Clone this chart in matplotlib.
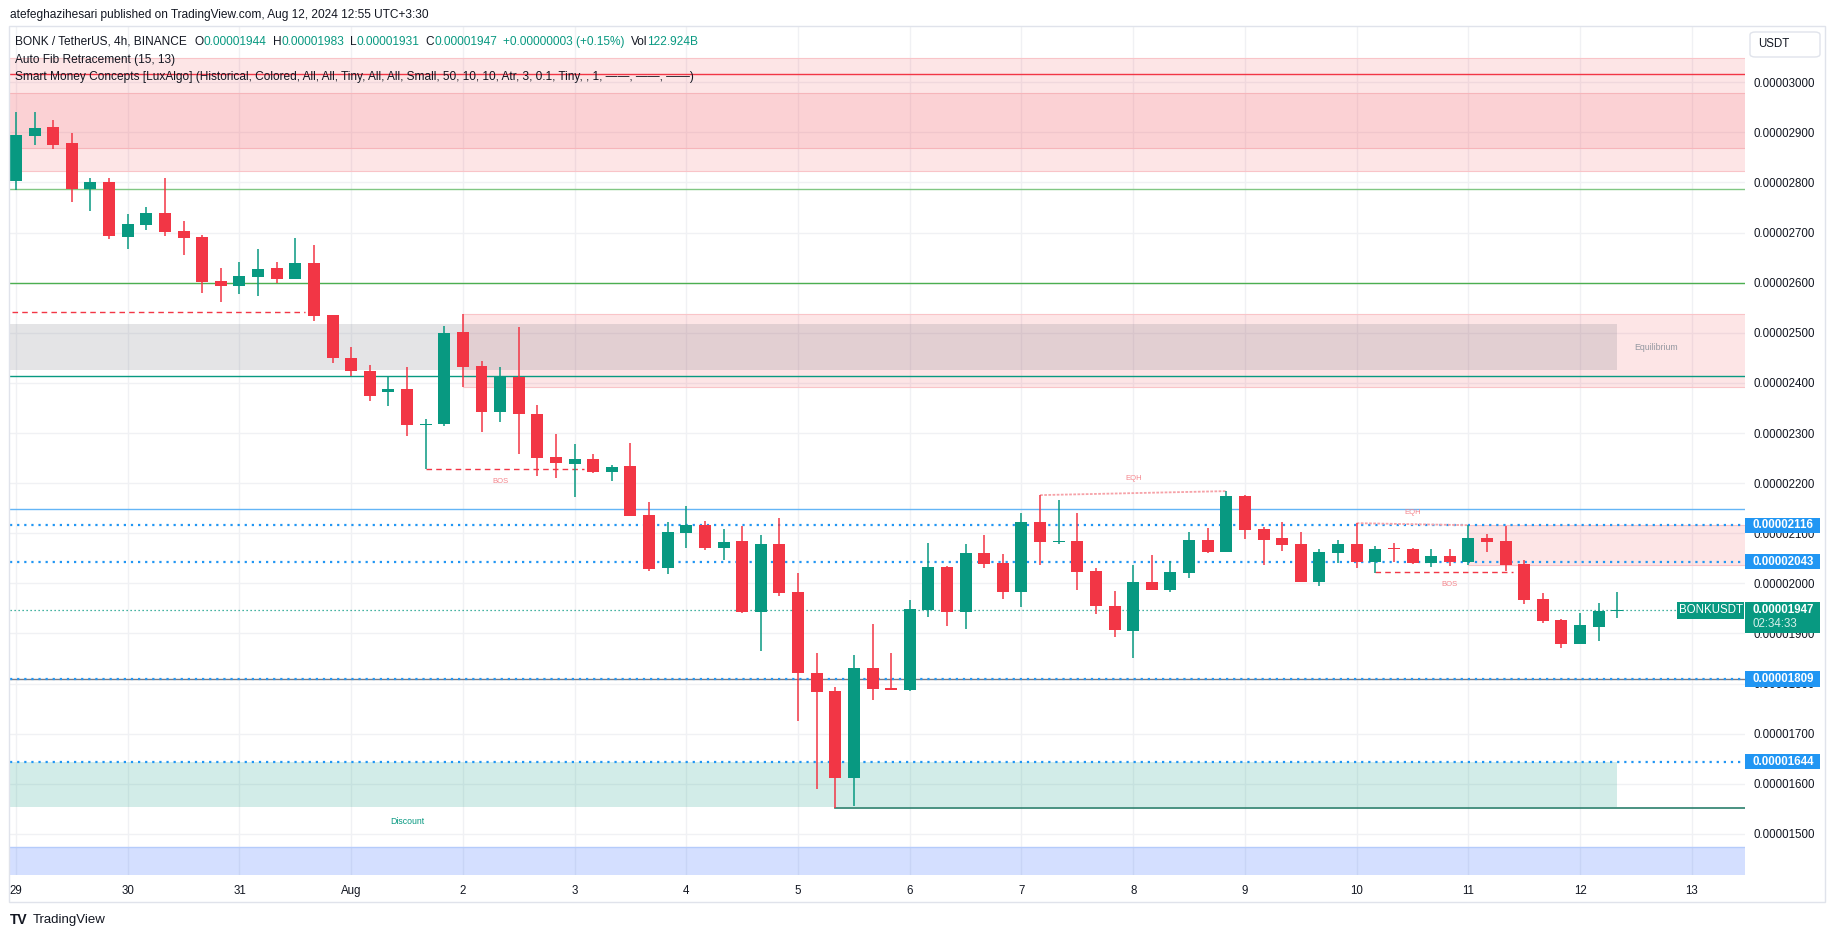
import matplotlib
matplotlib.use("Agg")
import matplotlib.pyplot as plt
from matplotlib.patches import Rectangle, FancyBboxPatch
from matplotlib.transforms import blended_transform_factory

plt.rcParams["font.family"] = ["Liberation Sans", "DejaVu Sans"]

W, H = 1835, 939

# BONK/USDT 4h candles, prices in units of 1e-8 USDT, from Jul 29 00:00
opens = [2802, 2893, 2911, 2879, 2787, 2801, 2692, 2716, 2739, 2703,
         2691, 2603, 2594, 2612, 2629, 2608, 2639, 2535, 2450, 2424,
         2382, 2388, 2315, 2317, 2502, 2434, 2341, 2412, 2338, 2252,
         2239, 2248, 2223, 2234, 2136, 2031, 2101, 2116, 2071, 2084,
         1943, 2078, 1983, 1821, 1785, 1612, 1831, 1792, 1788, 1947,
         2033, 1943, 2061, 2041, 1983, 2122, 2082, 2084, 2025, 1955,
         1905, 2003, 1987, 2021, 2086, 2062, 2174, 2108, 2090, 2078,
         2003, 2060, 2078, 2042, 2070, 2068, 2040, 2054, 2042, 2090,
         2084, 2038, 1969, 1927, 1879, 1913, 1944]
highs = [2941, 2941, 2925, 2899, 2809, 2809, 2737, 2751, 2809, 2723,
         2695, 2629, 2641, 2667, 2641, 2689, 2675, 2536, 2472, 2436,
         2412, 2432, 2328, 2514, 2538, 2444, 2432, 2512, 2356, 2298,
         2278, 2258, 2236, 2280, 2163, 2122, 2154, 2124, 2108, 2114,
         2096, 2130, 2021, 1861, 1793, 1857, 1919, 1861, 1967, 2080,
         2035, 2078, 2096, 2059, 2140, 2176, 2166, 2140, 2031, 1985,
         2037, 2057, 2045, 2102, 2110, 2184, 2176, 2112, 2122, 2102,
         2069, 2086, 2120, 2074, 2080, 2070, 2068, 2068, 2116, 2098,
         2114, 2046, 1981, 1929, 1941, 1961, 1983]
lows = [2786, 2875, 2867, 2762, 2744, 2687, 2667, 2705, 2694, 2655,
        2580, 2562, 2578, 2574, 2599, 2608, 2524, 2440, 2414, 2364,
        2354, 2294, 2228, 2313, 2392, 2301, 2321, 2258, 2215, 2211,
        2173, 2221, 2205, 2135, 2025, 2019, 2071, 2067, 2047, 1941,
        1864, 1975, 1726, 1590, 1552, 1556, 1768, 1788, 1786, 1933,
        1915, 1909, 2031, 1969, 1953, 2037, 2078, 1987, 1939, 1893,
        1851, 1987, 1983, 2011, 2060, 2062, 2088, 2037, 2065, 2003,
        1995, 2040, 2030, 2021, 2042, 2038, 2032, 2034, 2036, 2062,
        2025, 1959, 1921, 1871, 1879, 1885, 1931]
closes = [2895, 2909, 2875, 2787, 2801, 2694, 2717, 2739, 2702, 2690,
          2602, 2594, 2613, 2627, 2608, 2639, 2534, 2450, 2424, 2374,
          2388, 2315, 2318, 2500, 2432, 2341, 2413, 2337, 2251, 2241,
          2248, 2223, 2232, 2135, 2029, 2102, 2116, 2071, 2082, 1943,
          2078, 1981, 1820, 1784, 1612, 1831, 1790, 1788, 1949, 2033,
          1943, 2061, 2039, 1983, 2122, 2082, 2085, 2023, 1955, 1907,
          2003, 1987, 2023, 2086, 2062, 2174, 2106, 2086, 2076, 2003,
          2062, 2078, 2042, 2068, 2068, 2040, 2054, 2042, 2090, 2082,
          2036, 1967, 1925, 1879, 1917, 1945, 1947]

day_labels = ["29", "30", "31", "Aug", "2", "3", "4", "5", "6", "7",
              "8", "9", "10", "11", "12", "13"]
price_ticks = list(range(1500, 3001, 100))

# auto fib retracement levels (1 .. 0.236)
fib_levels = [1809, 2148, 2413, 2600, 2788, 3017]
fib_colors = ["#787b86", "#64b5f6", "#089981", "#4caf50", "#81c784", "#f23645"]

marked_levels = [2116, 2043, 1809, 1644]
last_price = 1947
countdown = "02:34:33"

# smart money concept zones: (start candle, low, high)
premium_zone = (2823, 3048)
premium_block = (2868, 2979)
equilibrium_zone = (86, 2426, 2518)
discount_zone = (86, 1553, 1644)
upper_block = (24, 2392, 2538)
lower_block = (78, 2037, 2116)
bottom_zone = (1400, 1474)
strong_low = (44, 1552)

# structure lines: (start candle, end candle, price, label, label candle, label price)
bos_lines = [(-0.2, 15.5, 2541, "", 0, 0),
             (22, 30.5, 2228, "BOS", 26.0, 2204),
             (73, 80.4, 2022, "BOS", 77.0, 1997)]
eqh_lines = [(55, 2176, 65, 2184, 60.0, 2209),
             (72, 2120, 78, 2116, 75.0, 2142)]

GREEN = "#089981"
RED = "#f23645"
BLUE = "#2196f3"
TEXT = "#131722"
HEAD_FS = 8.6


def fx(x):
    return x / W


def fy(y):
    return 1 - y / H


# plot area in pixels and the candle / price scale
L, R, T, B = 10, 1745, 27, 875
X0, DX = 16.0, 18.62
Y0, DY = 583.3, 0.501


def px_to_i(x):
    return (x - X0) / DX


def py_to_p(y):
    return 2000 + (Y0 - y) / DY


fig = plt.figure(figsize=(W / 100, H / 100), dpi=100)
fig.patch.set_facecolor("white")
ax = fig.add_axes([fx(L), fy(B), (R - L) / W, (B - T) / H])
ax.set_facecolor("white")
ax.set_xlim(px_to_i(L), px_to_i(R))
ax.set_ylim(py_to_p(B), py_to_p(T))
for s in ax.spines.values():
    s.set_visible(False)

# grid
for d in range(len(day_labels)):
    ax.axvline(6 * d, color="#f0f1f4", lw=1, zorder=0)
for p in price_ticks:
    ax.axhline(p, color="#f0f1f4", lw=1, zorder=0)

ax.yaxis.tick_right()
ax.set_yticks(price_ticks)
ax.set_yticklabels([f"{p * 1e-8:.8f}" for p in price_ticks])
ax.set_xticks([6 * d for d in range(len(day_labels))])
ax.set_xticklabels(day_labels)
ax.tick_params(axis="y", length=0, pad=6, labelsize=8.3, colors=TEXT)
ax.tick_params(axis="x", length=0, pad=7, labelsize=8.3, colors=TEXT)

xmin, xmax = ax.get_xlim()


def zone(x0, x1, lo, hi, color, alpha, edge=None):
    ax.add_patch(Rectangle((x0, lo), x1 - x0, hi - lo, facecolor=color,
                           alpha=alpha, lw=0, zorder=1))
    if edge:
        ax.plot([x0, x1], [lo, lo], color=edge, lw=0.8, zorder=1.1)
        ax.plot([x0, x1], [hi, hi], color=edge, lw=0.8, zorder=1.1)


zone(xmin, xmax, premium_zone[0], premium_zone[1], RED, 0.13, "#f9c4c8")
zone(xmin, xmax, premium_block[0], premium_block[1], RED, 0.11, "#f6b5ba")
zone(upper_block[0], xmax, upper_block[1], upper_block[2], RED, 0.13, "#f9c4c8")
zone(lower_block[0], xmax, lower_block[1], lower_block[2], RED, 0.13, "#f9c4c8")
zone(xmin, equilibrium_zone[0], equilibrium_zone[1], equilibrium_zone[2], "#787b86", 0.2)
zone(xmin, discount_zone[0], discount_zone[1], discount_zone[2], GREEN, 0.18)
zone(xmin, xmax, bottom_zone[0], bottom_zone[1], "#2962ff", 0.2)
ax.plot([xmin, xmax], [bottom_zone[1]] * 2, color="#b5cbfa", lw=1, zorder=1.1)

ax.text(88.1, 2470, "Equilibrium", color="#9598a1", fontsize=6.3,
        ha="center", va="center", zorder=5)
ax.text(21.0, 1525, "Discount", color=GREEN, fontsize=6.3,
        ha="center", va="center", zorder=5)

# fib levels
for lvl, col in zip(fib_levels, fib_colors):
    ax.axhline(lvl, color=col, lw=1, zorder=2)
ax.plot([strong_low[0], xmax], [strong_low[1]] * 2, color="#2a7f6c", lw=1.2, zorder=2)

# dotted marked levels and last price
for lvl in marked_levels:
    ax.axhline(lvl, color=BLUE, lw=1.6, ls=(0, (1, 2.2)), zorder=3)
ax.axhline(last_price, color=GREEN, lw=0.9, ls=(0, (1, 2.2)), zorder=3)

# structure
for x0, x1, p, lab, lx, ly in bos_lines:
    ax.plot([x0, x1], [p, p], color=RED, lw=1, ls=(0, (4, 3)), zorder=3)
    if lab:
        ax.text(lx, ly, lab, color="#f5868d", fontsize=5.5, ha="center",
                va="center", zorder=5)
for x0, p0, x1, p1, lx, ly in eqh_lines:
    ax.plot([x0, x1], [p0, p1], color="#f6a2a8", lw=1.3, ls=(0, (1.5, 0.8)), zorder=3)
    ax.text(lx, ly, "EQH", color="#f5868d", fontsize=5.5, ha="center",
            va="center", zorder=5)

# candles
bw = 12 / DX
for i, (o, h, l, c) in enumerate(zip(opens, highs, lows, closes)):
    col = GREEN if c >= o else RED
    ax.vlines(i, l, h, color=col, lw=1.1, zorder=4)
    lo = min(o, c)
    hgt = max(abs(c - o), 3)
    ax.add_patch(Rectangle((i - bw / 2, lo), bw, hgt, facecolor=col,
                           edgecolor="none", zorder=4))

# price axis tags
trans = blended_transform_factory(ax.transAxes, ax.transData)
box_w = (1820 - R) / (R - L)
tx = 1.0 + 7 / (R - L)
for lvl in marked_levels:
    ax.add_patch(Rectangle((1.0, lvl - 15), box_w, 30, transform=trans,
                           facecolor=BLUE, edgecolor="none", clip_on=False, zorder=6))
    ax.text(tx, lvl, f"{lvl * 1e-8:.8f}", transform=trans, color="white",
            fontsize=8.3, fontweight="bold", va="center", ha="left",
            clip_on=False, zorder=7)
ax.add_patch(Rectangle((1.0, 1901), box_w, 62, transform=trans,
                       facecolor=GREEN, edgecolor="none", clip_on=False, zorder=6))
ax.text(tx, 1947, f"{last_price * 1e-8:.8f}", transform=trans, color="white",
        fontsize=8.3, fontweight="bold", va="center", ha="left", clip_on=False, zorder=7)
ax.text(tx, 1918, countdown, transform=trans, color="#d6f0ea",
        fontsize=8.3, va="center", ha="left", clip_on=False, zorder=7)
sx0 = (1677 - L) / (R - L)
ax.add_patch(Rectangle((sx0, 1929), 1.0 - sx0 - 0.0006, 34, transform=trans,
                       facecolor=GREEN, edgecolor="none", clip_on=False, zorder=6))
ax.text((sx0 + 1.0) / 2, 1946, "BONKUSDT", transform=trans, color="white",
        fontsize=8.3, va="center", ha="center", clip_on=False, zorder=7)

# frame, currency box
fig.add_artist(Rectangle((fx(9), fy(902)), (1825 - 9) / W, (902 - 26) / H,
                         transform=fig.transFigure, fill=False,
                         edgecolor="#e0e3eb", lw=1))
fig.add_artist(FancyBboxPatch((fx(1750), fy(57)), 70 / W, 25 / H,
                              boxstyle="round,pad=0,rounding_size=0.003",
                              transform=fig.transFigure, facecolor="white",
                              edgecolor="#e0e3eb", lw=1))
fig.text(fx(1758), fy(44), "USDT", fontsize=8.3, color=TEXT, va="center")

# header
fig.text(fx(10), fy(15), "atefeghazihesari published on TradingView.com, Aug 12, 2024 12:55 UTC+3:30",
         fontsize=HEAD_FS, color=TEXT, va="center")

legend_parts = [("BONK / TetherUS, 4h, BINANCE", TEXT, 8),
                ("O", TEXT, 0), ("0.00001944", GREEN, 6),
                ("H", TEXT, 0), ("0.00001983", GREEN, 6),
                ("L", TEXT, 0), ("0.00001931", GREEN, 6),
                ("C", TEXT, 0), ("0.00001947", GREEN, 6),
                ("+0.00000003 (+0.15%)", GREEN, 6),
                ("Vol", TEXT, 0), ("122.924B", GREEN, 0)]
renderer = fig.canvas.get_renderer()
x = 15
for s, col, gap in legend_parts:
    t = fig.text(fx(x), fy(42), s, fontsize=HEAD_FS, color=col, va="center")
    x += t.get_window_extent(renderer).width + gap
fig.text(fx(15), fy(60), "Auto Fib Retracement (15, 13)", fontsize=HEAD_FS, color=TEXT, va="center")
fig.text(fx(15), fy(77),
         "Smart Money Concepts [LuxAlgo] (Historical, Colored, All, All, Tiny, All, All, Small, "
         "50, 10, 10, Atr, 3, 0.1, Tiny, , 1, \u2014\u2014, \u2014\u2014, \u2014\u2014)",
         fontsize=HEAD_FS, color=TEXT, va="center")

# footer logo
fig.text(fx(10), fy(920), "TV", fontsize=10, fontweight="black", color=TEXT, va="center")
fig.text(fx(33), fy(920), "TradingView", fontsize=9.5, color=TEXT, va="center")

fig.savefig("out.png", dpi=100)
